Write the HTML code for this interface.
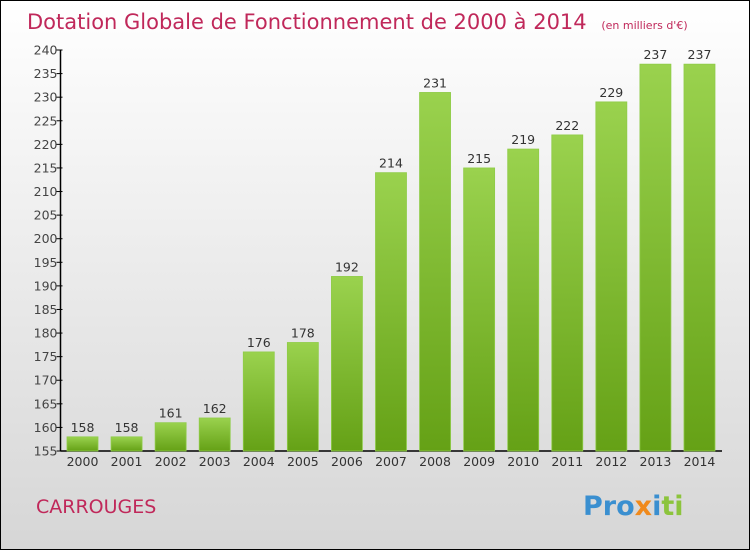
<!DOCTYPE html>
<html><head><meta charset="utf-8"><style>
body{margin:0;}
#c{width:750px;height:550px;position:relative;overflow:hidden;}
svg{display:block;font-family:"DejaVu Sans","Liberation Sans",sans-serif;}
</style></head><body>
<div id="c">
<svg id="s" width="750" height="550">
<defs>
<linearGradient id="bg" x1="0" y1="0" x2="0" y2="1"><stop offset="0" stop-color="#ffffff"/><stop offset="1" stop-color="#d6d6d6"/></linearGradient>
<linearGradient id="bar" x1="0" y1="0" x2="0" y2="1"><stop offset="0" stop-color="#9ad24e"/><stop offset="1" stop-color="#65a116"/></linearGradient>
</defs>
<rect x="0.5" y="0.5" width="749" height="549" fill="url(#bg)" stroke="#000"/>
<text x="27" y="29" font-size="21" fill="#c0285a">Dotation Globale de Fonctionnement de 2000 à 2014 <tspan font-size="11" dx="8">(en milliers d'€)</tspan></text>
<g id="plot"></g>
<text x="36" y="513" font-size="19" fill="#c0285a">CARROUGES</text>
<text x="583" y="515" font-size="27" font-weight="bold"><tspan fill="#3a8fd0">Pro</tspan><tspan fill="#f08a1c">x</tspan><tspan fill="#3a8fd0">i</tspan><tspan fill="#8cc43c">ti</tspan></text>
</svg></div>
<script>
const years=["2000","2001","2002","2003","2004","2005","2006","2007","2008","2009","2010","2011","2012","2013","2014"];
const values=[158,158,161,162,176,178,192,214,231,215,219,222,229,237,237];
const yTicks=[155,160,165,170,175,180,185,190,195,200,205,210,215,220,225,230,235,240];
const NS="http://www.w3.org/2000/svg";
const g=document.getElementById('plot');
const y0=451,y1=50,vmin=155,vmax=240,axisX=60.5;
const yS=v=>y0-(v-vmin)*(y0-y1)/(vmax-vmin);
const xS=i=>67+i*44.07;
function mk(t,a){const e=document.createElementNS(NS,t);for(const k in a)e.setAttribute(k,a[k]);g.appendChild(e);return e;}
let ax=mk('line',{x1:axisX,y1:y1,x2:axisX,y2:y0,stroke:'#000','stroke-width':1.5});


let bx=mk('line',{x1:axisX,y1:y0,x2:722,y2:y0,stroke:'#000','stroke-width':1.5});


yTicks.forEach(v=>{const y=yS(v);
 const t=mk('line',{x1:axisX-4,y1:y,x2:axisX+2,y2:y,stroke:'#000'});
 
 
 const l=mk('text',{x:axisX-3,y:y+4.5,'font-size':12.5,'text-anchor':'end',fill:'#444'});
 l.textContent=v;
 
 
});
values.forEach((v,i)=>{const x=xS(i),y=yS(v);
 const r=mk('rect',{x:x,y:y,width:31,height:y0-y,fill:'url(#bar)',stroke:'#8fcc48','stroke-width':0.8});
 
 
 const t=mk('text',{x:x+15.5,y:y-5,'font-size':12.5,'text-anchor':'middle',fill:'#333'});
 t.textContent=v;
 
 
 const xl=mk('text',{x:x+15.5,y:y0+15,'font-size':12.5,'text-anchor':'middle',fill:'#333'});
 xl.textContent=years[i];
 
 
});
</script>
</body></html>
